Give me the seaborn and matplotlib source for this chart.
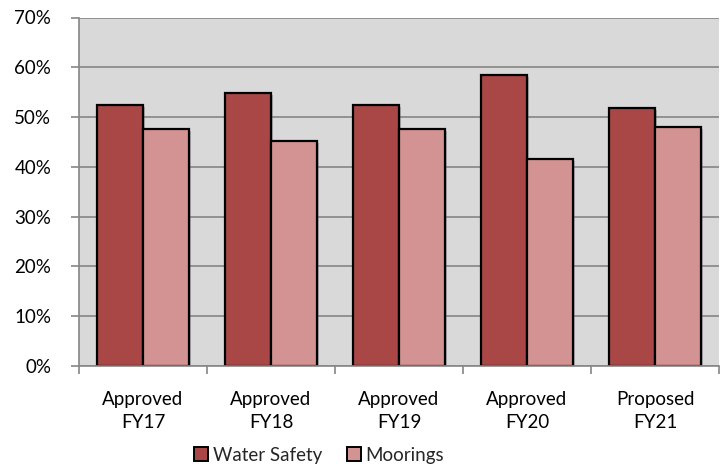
import matplotlib
matplotlib.use("Agg")
import matplotlib.pyplot as plt
import matplotlib.patheffects as pe
from matplotlib.patches import Patch
import numpy as np
import pandas as pd
import seaborn as sns

categories = ["Approved\nFY17", "Approved\nFY18", "Approved\nFY19", "Approved\nFY20", "Proposed\nFY21"]
water_safety = [0.524, 0.548, 0.524, 0.584, 0.519]
moorings = [0.476, 0.452, 0.476, 0.416, 0.481]
series_names = ["Water Safety", "Moorings"]
series_colors = ["#A84745", "#D39392"]
y_ticks = [0.0, 0.1, 0.2, 0.3, 0.4, 0.5, 0.6, 0.7]

df = pd.DataFrame({
    "category": categories * 2,
    "series": [series_names[0]] * len(categories) + [series_names[1]] * len(categories),
    "value": water_safety + moorings,
})

sns.set_theme(style="white")
plt.rcParams["font.family"] = ["Lato", "DejaVu Sans"]

fig = plt.figure(figsize=(7.25, 4.67), dpi=100)
ax = fig.add_axes([79 / 725, 1 - 366 / 467, 640 / 725, 348.5 / 467])

sns.barplot(data=df, x="category", y="value", hue="series", order=categories,
            hue_order=series_names, palette=series_colors, width=0.72,
            edgecolor="black", linewidth=1.6, saturation=1, legend=False, ax=ax)

shadow = [pe.SimplePatchShadow(offset=(1.5, -1.5), shadow_rgbFace="#555555", alpha=0.35), pe.Normal()]
for p in ax.patches:
    p.set_path_effects(shadow)

ax.set_facecolor("#D9D9D9")
ax.set_ylim(0, 0.7)
ax.set_xlim(-0.5, len(categories) - 0.5)
ax.set_yticks(y_ticks)
ax.set_yticklabels([f"{int(round(t * 100))}%" for t in y_ticks], fontsize=13.5, color="black")
ax.yaxis.grid(True, color="#868686", linewidth=1.2)
ax.set_axisbelow(True)
ax.set_xlabel("")
ax.set_ylabel("")

ax.set_xticks(range(len(categories)))
ax.set_xticklabels(categories, fontsize=13.5, color="black", linespacing=1.45)
ax.set_xticks(np.arange(-0.5, len(categories), 1.0), minor=True)
ax.tick_params(axis="x", which="major", length=0, pad=18)
ax.tick_params(axis="x", which="minor", length=6, color="#868686", width=1.2, bottom=True)
ax.tick_params(axis="y", which="major", length=6, color="#868686", width=1.2, left=True, pad=14)

for side in ["top", "right"]:
    ax.spines[side].set_visible(False)
for side in ["left", "bottom"]:
    ax.spines[side].set_color("#868686")
    ax.spines[side].set_linewidth(1.2)

handles = [Patch(facecolor=c, edgecolor="black", linewidth=1.4, label=n)
           for c, n in zip(series_colors, series_names)]
fig.legend(handles=handles, loc="center", bbox_to_anchor=(319 / 725, 1 - 455 / 467), ncol=2,
           frameon=False, fontsize=13.5, handlelength=0.75, handleheight=0.75,
           handletextpad=0.25, columnspacing=1.3, borderpad=0.1)

fig.savefig("out.png", dpi=100)
